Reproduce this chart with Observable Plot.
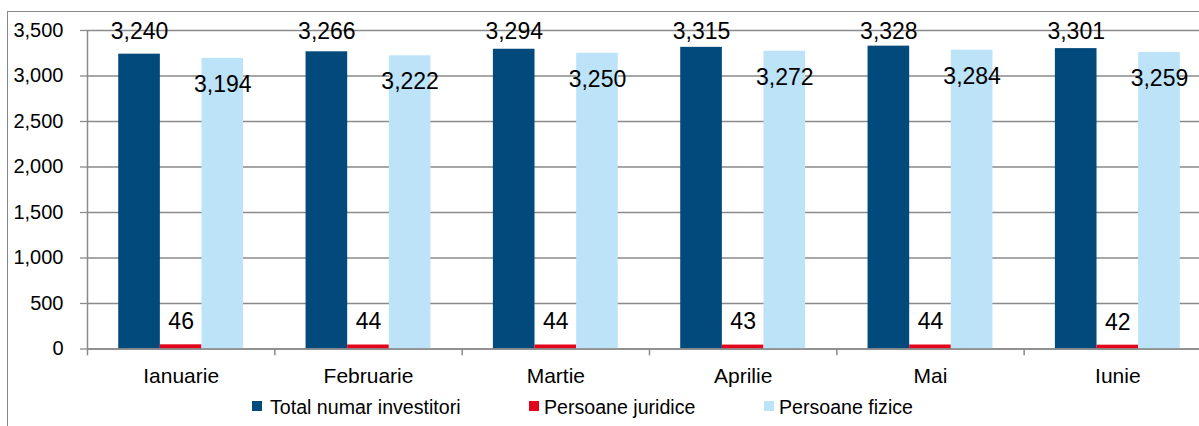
<!DOCTYPE html>
<html>
<head>
<meta charset="utf-8">
<script src="https://cdn.jsdelivr.net/npm/d3@7"></script>
<script src="https://cdn.jsdelivr.net/npm/@observablehq/plot@0.6"></script>
<style>
  html, body { margin: 0; padding: 0; background: #fff; overflow: hidden; }
  #wrap { position: relative; width: 1199px; height: 426px; font-family: "Liberation Sans", Arial, sans-serif; }
  #border { position: absolute; left: 7px; top: 11px; width: 1300px; height: 500px; border: 1px solid #888; pointer-events: none; z-index: 2; box-sizing: border-box; }
  #legend { position: absolute; left: 0; top: 385px; width: 1199px; height: 41px; color: #000; }
  .sw { position: absolute; top: 15.7px; width: 9.5px; height: 10px; }
  .lab { position: absolute; top: 11.5px; font-size: 19.6px; line-height: 20px; white-space: nowrap; }
</style>
</head>
<body>
<div id="wrap">
  <div id="chart"></div>
  <div id="legend"></div>
  <div id="border"></div>
</div>
<script>
const months = ["Ianuarie", "Februarie", "Martie", "Aprilie", "Mai", "Iunie"];
const total = [3240, 3266, 3294, 3315, 3328, 3301];
const juridice = [46, 44, 44, 43, 44, 42];
const fizice = [3194, 3222, 3250, 3272, 3284, 3259];
const seriesNames = ["Total numar investitori", "Persoane juridice", "Persoane fizice"];
const colors = ["#024A7B", "#E3061B", "#BDE3F8"];
const yTicks = [0, 500, 1000, 1500, 2000, 2500, 3000, 3500];

const rows = (vals) => months.map((m, i) => ({month: m, value: vals[i]}));
const dTotal = rows(total), dJur = rows(juridice), dFiz = rows(fizice);

const x0 = 87, x1 = 1211;
const step = (x1 - x0) / 6;
const third = step * (2 / 3) / 3;
const fmt = d3.format(",");
const font = "Liberation Sans, Arial, sans-serif";

const chart = Plot.plot({
  width: 1199,
  height: 385,
  marginLeft: 87,
  marginRight: 0,
  marginTop: 30,
  marginBottom: 36.5,
  style: {fontFamily: font, background: "transparent", color: "#000", overflow: "visible"},
  x: {domain: months, range: [x0, x1], paddingInner: 1 / 3, paddingOuter: 1 / 6, round: false, label: null},
  y: {domain: [0, 3500], label: null},
  marks: [
    Plot.gridY(yTicks, {stroke: "#8a8a8a", strokeOpacity: 1, strokeWidth: 1.3}),
    Plot.barY(dTotal, {x: "month", y: "value", fill: colors[0], insetLeft: 0, insetRight: 2 * third}),
    Plot.barY(dJur, {x: "month", y: "value", fill: colors[1], insetLeft: third, insetRight: third}),
    Plot.barY(dFiz, {x: "month", y: "value", fill: colors[2], insetLeft: 2 * third, insetRight: 0}),
    Plot.ruleY([0], {stroke: "#8a8a8a", strokeWidth: 1.5}),
    Plot.ruleX([months[0]], {x: d => d, dx: -step / 2, y1: 0, y2: 3500, stroke: "#8a8a8a", strokeWidth: 1.5}),
    Plot.ruleX(months, {x: d => d, dx: -step / 2, y1: -75, y2: 0, stroke: "#8a8a8a", strokeWidth: 1.5}),
    Plot.axisY({ticks: yTicks, tickFormat: fmt, tickSize: 7, tickPadding: 17, fontSize: 20, stroke: "#8a8a8a", strokeWidth: 1.3, label: null}),
    Plot.axisX({tickSize: 0, tickPadding: 19, fontSize: 21, label: null}),
    Plot.text(dTotal, {x: "month", frameAnchor: "top", text: d => fmt(d.value), dx: -third, dy: 1, fontSize: 23, fill: "#000", lineAnchor: "middle"}),
    Plot.text(dJur, {x: "month", y: "value", text: d => fmt(d.value), dx: 0, dy: -23, fontSize: 23, fill: "#000", lineAnchor: "middle"}),
    Plot.text(dFiz, {x: "month", y: "value", text: d => fmt(d.value), dx: third, dy: 26, fontSize: 23, fill: "#000", lineAnchor: "middle"})
  ]
});
document.getElementById("chart").appendChild(chart);

const swatchX = [252.3, 529, 764.3];
const labelX = [270, 544, 779];
const legend = document.getElementById("legend");
seriesNames.forEach((name, i) => {
  const sw = document.createElement("div");
  sw.className = "sw";
  sw.style.left = swatchX[i] + "px";
  sw.style.background = colors[i];
  const label = document.createElement("div");
  label.className = "lab";
  label.style.left = labelX[i] + "px";
  label.textContent = name;
  legend.appendChild(sw);
  legend.appendChild(label);
});
</script>
</body>
</html>
